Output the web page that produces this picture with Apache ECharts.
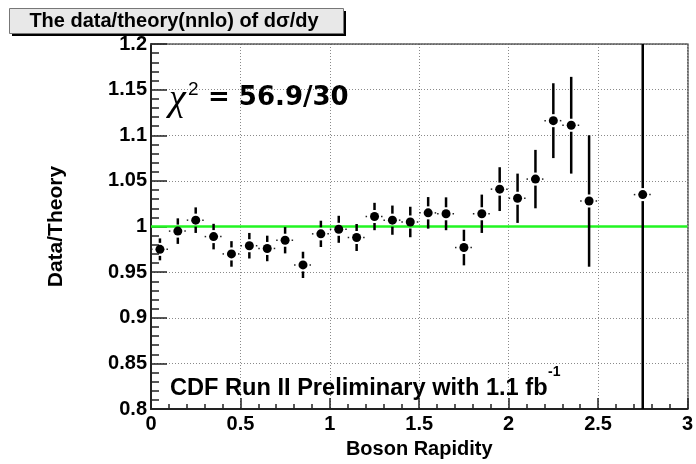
<!DOCTYPE html>
<html>
<head>
<meta charset="utf-8">
<script src="https://cdn.jsdelivr.net/npm/echarts@6/dist/echarts.min.js"></script>
<style>
  html, body { margin: 0; padding: 0; background: #fff; }
  #chart { width: 696px; height: 464px; }
</style>
</head>
<body>
<div id="chart"></div>
<script>
// Boson rapidity bin centres
const rapidity = [0.05, 0.15, 0.25, 0.35, 0.45, 0.55, 0.65, 0.75, 0.85, 0.95,
                  1.05, 1.15, 1.25, 1.35, 1.45, 1.55, 1.65, 1.75, 1.85, 1.95,
                  2.05, 2.15, 2.25, 2.35, 2.45, 2.75];
// Half bin width (horizontal error)
const rapidityErr = [0.05, 0.05, 0.05, 0.05, 0.05, 0.05, 0.05, 0.05, 0.05, 0.05,
                     0.05, 0.05, 0.05, 0.05, 0.05, 0.05, 0.05, 0.05, 0.05, 0.05,
                     0.05, 0.05, 0.05, 0.05, 0.05, 0.05];
// Data / theory (NNLO) ratio
const ratio = [0.975, 0.995, 1.007, 0.989, 0.970, 0.979, 0.976, 0.985, 0.958, 0.992,
               0.997, 0.988, 1.011, 1.007, 1.005, 1.015, 1.014, 0.977, 1.014, 1.041,
               1.031, 1.052, 1.116, 1.111, 1.028, 1.035];
// Uncertainty on the ratio
const ratioErr = [0.012, 0.014, 0.014, 0.014, 0.014, 0.014, 0.014, 0.0144, 0.0144, 0.0144,
                  0.0148, 0.0148, 0.015, 0.016, 0.0167, 0.0173, 0.018, 0.0195, 0.021, 0.024,
                  0.027, 0.032, 0.041, 0.053, 0.072, 0.40];
// Reference line: data equal to theory
const unityLine = [[0, 1], [3, 1]];

const X_MIN = 0, X_MAX = 3, X_STEP = 0.5;
const Y_MIN = 0.8, Y_MAX = 1.2, Y_STEP = 0.05;

const FONT = 'Liberation Sans';
const MARKER_R = 4.5;
const GAP = MARKER_R + 2;

const points = rapidity.map((x, i) => [x, ratio[i], rapidityErr[i], ratioErr[i]]);

function renderPoint(params, api) {
  const x = api.value(0), y = api.value(1), ex = api.value(2), ey = api.value(3);
  const c = api.coord([x, y]);
  const top = api.coord([x, Math.min(y + ey, Y_MAX)]);
  const bot = api.coord([x, Math.max(y - ey, Y_MIN)]);
  const left = api.coord([x - ex, y]);
  const right = api.coord([x + ex, y]);
  const kids = [];
  const vStyle = { stroke: '#000', lineWidth: 2.5 };
  const hStyle = { stroke: '#222', lineWidth: 1.5, lineDash: [1.5, 1.5] };
  if (top[1] < c[1] - GAP) {
    kids.push({ type: 'line', shape: { x1: c[0], y1: top[1], x2: c[0], y2: c[1] - GAP }, style: vStyle });
  }
  if (bot[1] > c[1] + GAP) {
    kids.push({ type: 'line', shape: { x1: c[0], y1: c[1] + GAP, x2: c[0], y2: bot[1] }, style: vStyle });
  }
  if (left[0] < c[0] - GAP) {
    kids.push({ type: 'line', shape: { x1: left[0], y1: c[1], x2: c[0] - GAP, y2: c[1] }, style: hStyle });
  }
  if (right[0] > c[0] + GAP) {
    kids.push({ type: 'line', shape: { x1: c[0] + GAP, y1: c[1], x2: right[0], y2: c[1] }, style: hStyle });
  }
  kids.push({ type: 'circle', shape: { cx: c[0], cy: c[1], r: MARKER_R }, style: { fill: '#000' } });
  return { type: 'group', children: kids };
}

const chart = echarts.init(document.getElementById('chart'), null, { renderer: 'canvas' });

const gridLine = { show: true, lineStyle: { color: '#8a8a8a', width: 1, type: [1, 2] } };
const labelFont = { color: '#000', fontFamily: FONT, fontWeight: 'bold', fontSize: 20 };

chart.setOption({
  animation: false,
  backgroundColor: '#fff',
  grid: { left: 151, right: 6, top: 44, bottom: 50 },
  xAxis: [{
    type: 'value', min: X_MIN, max: X_MAX, interval: X_STEP,
    name: 'Boson Rapidity', nameLocation: 'middle', nameGap: 28,
    nameTextStyle: labelFont,
    axisLine: { show: true, onZero: false, lineStyle: { color: '#222', width: 2 } },
    axisTick: { show: true, inside: true, length: 11, lineStyle: { color: '#222', width: 1.5 } },
    minorTick: { show: true, splitNumber: 5, length: 5, lineStyle: { color: '#222', width: 1.5 } },
    axisLabel: Object.assign({ margin: 5 }, labelFont),
    splitLine: gridLine
  }, {
    type: 'value', min: X_MIN, max: X_MAX, position: 'top',
    axisLine: { show: true, onZero: false, lineStyle: { color: '#555', width: 1.5, type: [2, 1] } },
    axisTick: { show: false }, axisLabel: { show: false }, splitLine: { show: false }
  }],
  yAxis: [{
    type: 'value', min: Y_MIN, max: Y_MAX, interval: Y_STEP,
    name: 'Data/Theory', nameLocation: 'middle', nameGap: 84,
    nameTextStyle: Object.assign({}, labelFont, { fontSize: 21 }),
    axisLine: { show: true, onZero: false, lineStyle: { color: '#222', width: 2 } },
    axisTick: { show: true, inside: true, length: 16, lineStyle: { color: '#222', width: 1.5 } },
    minorTick: { show: true, splitNumber: 5, length: 8, lineStyle: { color: '#222', width: 1.5 } },
    axisLabel: Object.assign({ margin: 4 }, labelFont),
    splitLine: gridLine
  }, {
    type: 'value', min: Y_MIN, max: Y_MAX, position: 'right',
    axisLine: { show: true, onZero: false, lineStyle: { color: '#555', width: 1.5, type: [2, 1] } },
    axisTick: { show: false }, axisLabel: { show: false }, splitLine: { show: false }
  }],
  series: [{
    type: 'line',
    data: unityLine,
    symbol: 'none',
    lineStyle: { color: '#22f522', width: 2.5 },
    z: 2,
    silent: true
  }, {
    type: 'custom',
    data: points,
    renderItem: renderPoint,
    clip: true,
    z: 3,
    silent: true
  }],
  graphic: [
    // title box with drop shadow
    { type: 'rect', left: 12, top: 11, shape: { width: 334, height: 25 }, style: { fill: '#000' }, z: 10 },
    { type: 'rect', left: 9, top: 8, shape: { width: 334, height: 25 },
      style: { fill: '#e8e8e8', stroke: '#777', lineWidth: 1 }, z: 11 },
    { type: 'text', x: 174, y: 21, z: 12,
      style: { text: 'The data/theory(nnlo) of d\u03c3/dy', fill: '#000',
               font: 'bold 20px "Liberation Sans"', align: 'center', verticalAlign: 'middle' } },
    // chi-square annotation
    { type: 'text', x: 169, y: 100, z: 12,
      style: { text: '\u03c7', fill: '#000', font: 'italic 38px "Liberation Serif"',
               align: 'left', verticalAlign: 'middle' } },
    { type: 'text', x: 188, y: 90, z: 12,
      style: { text: '2', fill: '#000', font: '19px "Liberation Sans"',
               align: 'left', verticalAlign: 'middle' } },
    { type: 'text', x: 208, y: 98, z: 12,
      style: { text: '= 56.9/30', fill: '#000', font: 'bold 26px "DejaVu Sans"',
               align: 'left', verticalAlign: 'middle' } },
    // experiment label
    { type: 'text', x: 170, y: 388, z: 12,
      style: { text: 'CDF Run II Preliminary with 1.1 fb', fill: '#000', font: 'bold 23.6px "Liberation Sans"',
               align: 'left', verticalAlign: 'middle' } },
    { type: 'text', x: 548, y: 372, z: 12,
      style: { text: '-1', fill: '#000', font: 'bold 14px "Liberation Sans"',
               align: 'left', verticalAlign: 'middle' } }
  ]
});
</script>
</body>
</html>
